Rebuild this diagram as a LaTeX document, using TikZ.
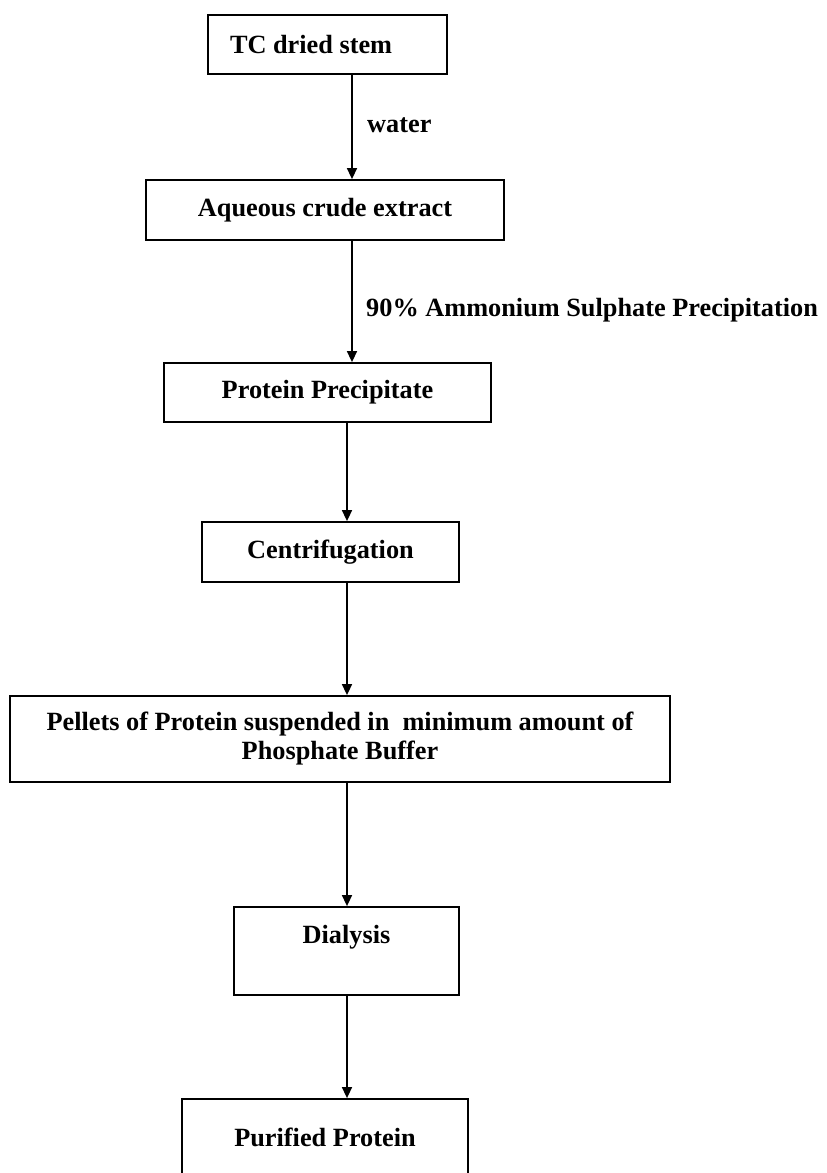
\documentclass[tikz,border=0pt]{standalone}
\usepackage{fontspec}
\setmainfont{Liberation Serif}
\usetikzlibrary{arrows.meta}
\tikzset{
  stepbox/.style={draw, line width=1.8pt, inner sep=0pt, align=center,
    font=\fontsize{26.3pt}{29pt}\selectfont\bfseries},
  txt/.style={inner sep=0pt, font=\fontsize{26.3pt}{29pt}\selectfont\bfseries},
  arr/.style={line width=1.5pt, -{Triangle[width=10pt,length=11pt]}}
}
\begin{document}
\begin{tikzpicture}[x=1pt,y=-1pt]
\useasboundingbox (0,0) rectangle (827,1173);
\clip (0,0) rectangle (827,1173);
\node[stepbox, minimum width=239pt, minimum height=59pt] (tc) at (327.5,44.5)
  {\makebox[239pt][l]{\hspace{22pt}TC dried stem}};
\node[stepbox, minimum width=358pt, minimum height=60pt] (aq) at (325,210) {Aqueous crude extract};
\node[stepbox, minimum width=327pt, minimum height=59pt] (pp) at (327.5,392.5) {Protein Precipitate};
\node[stepbox, minimum width=257pt, minimum height=60pt] (cf) at (330.5,552) {Centrifugation};
\node[stepbox, minimum width=660pt, minimum height=86pt] (pel) at (340,739)
  {Pellets of Protein suspended in \ minimum amount of\\Phosphate Buffer};
\node[stepbox, minimum width=225pt, minimum height=88pt,
  label={[txt, anchor=base, yshift=-37pt]north:Dialysis}] (dia) at (346.5,951) {};
\node[stepbox, minimum width=286pt, minimum height=130pt,
  label={[txt, anchor=base, yshift=-48pt]north:Purified Protein}] (pur) at (325,1164) {};
\coordinate (ax1) at (352,0);
\coordinate (ax2) at (347,0);
\draw[arr] (tc.south -| ax1) -- (aq.north -| ax1);
\draw[arr] (aq.south -| ax1) -- (pp.north -| ax1);
\draw[arr] (pp.south -| ax2) -- (cf.north -| ax2);
\draw[arr] (cf.south -| ax2) -- (pel.north -| ax2);
\draw[arr] (pel.south -| ax2) -- (dia.north -| ax2);
\draw[arr] (dia.south -| ax2) -- (pur.north -| ax2);
\node[txt, anchor=base west] (lw) at (367,132) {water};
\node[txt, anchor=base west] (lam) at (366,316) {90\% Ammonium Sulphate Precipitation};
\end{tikzpicture}
\end{document}
